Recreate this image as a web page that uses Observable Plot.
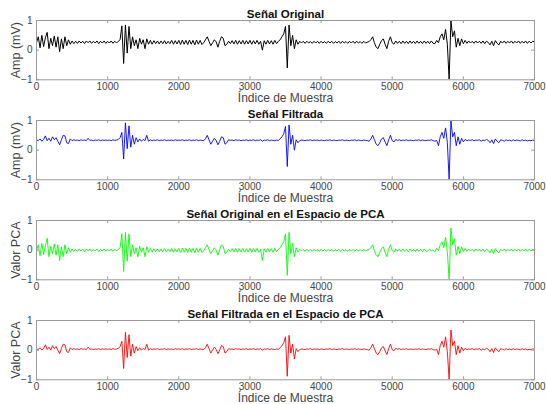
<!DOCTYPE html>
<html><head><meta charset="utf-8">
<script src="https://cdn.jsdelivr.net/npm/d3@7"></script>
<script src="https://cdn.jsdelivr.net/npm/@observablehq/plot@0.6"></script>
<style>
body{margin:0;background:#fff;}
#chart{position:relative;width:546px;height:404px;}
#chart svg{position:absolute;left:0;}
</style></head><body><div id="chart"></div>
<script>
// sample spacing of the read-off values (Índice de Muestra)
const step = 25;
const xTicks = [0,1000,2000,3000,4000,5000,6000,7000];
const yTicks = [-1,0,1];
const titles = ["Señal Original","Señal Filtrada","Señal Original en el Espacio de PCA","Señal Filtrada en el Espacio de PCA"];
const yLabels = ["Amp (mV)","Amp (mV)","Valor PCA","Valor PCA"];
const xLabel = "Índice de Muestra";
const colors = ["#000000","#0000ff","#00ff00","#ff0000"];

const senalOriginal = [
0.25,0.45,0.08,0.50,0.12,0.42,0.60,0.05,0.40,0.15,0.48,0.10,0.45,-0.05,0.38,0.05,0.45,0.15,0.35,0.20,
0.31,0.22,0.30,0.23,0.31,0.24,0.30,0.22,0.31,0.25,0.31,0.23,0.30,0.24,0.31,0.22,0.30,0.24,0.31,0.23,
0.30,0.24,0.31,0.23,0.30,0.24,0.30,0.35,0.82,-0.45,0.85,-0.10,0.80,0.05,0.45,0.15,0.35,0.05,0.40,0.20,
0.35,0.05,0.38,0.20,0.33,0.20,0.32,0.22,0.31,0.21,0.31,0.22,0.32,0.21,0.30,0.22,0.33,0.20,0.32,0.21,
0.33,0.19,0.34,0.20,0.33,0.19,0.34,0.20,0.33,0.18,0.34,0.20,0.33,0.19,0.25,0.35,0.45,0.30,0.15,0.25,
0.35,0.28,0.10,0.30,0.45,0.40,0.15,0.20,0.30,0.22,0.32,0.21,0.33,0.20,0.32,0.21,0.33,0.20,0.32,0.21,
0.33,0.20,0.32,0.21,0.33,0.20,0.30,0.00,0.32,0.20,0.33,0.21,0.32,0.20,0.33,0.22,0.30,0.35,0.45,0.55,
0.80,-0.60,0.85,0.15,0.50,0.05,0.35,0.20,0.30,0.24,0.30,0.23,0.30,0.24,0.29,0.23,0.30,0.24,0.30,0.23,
0.30,0.24,0.29,0.23,0.30,0.24,0.30,0.23,0.29,0.24,0.30,0.23,0.30,0.24,0.29,0.23,0.30,0.24,0.30,0.23,
0.30,0.24,0.29,0.23,0.30,0.24,0.27,0.29,0.35,0.45,0.25,0.10,0.05,0.20,0.32,0.38,0.20,0.05,0.30,0.45,
0.25,0.20,0.31,0.23,0.30,0.22,0.31,0.23,0.30,0.22,0.31,0.23,0.30,0.22,0.31,0.23,0.30,0.22,0.31,0.23,
0.30,0.22,0.31,0.23,0.22,0.33,0.25,0.45,0.55,0.35,0.70,0.20,-1.00,1.00,0.45,0.65,0.10,0.40,0.15,0.38,
0.22,0.33,0.23,0.31,0.24,0.30,0.23,0.31,0.24,0.30,0.23,0.31,0.22,0.30,0.26,0.18,0.30,0.15,0.32,0.23,
0.18,0.30,0.24,0.31,0.23,0.30,0.24,0.31,0.23,0.30,0.24,0.31,0.23,0.30,0.24,0.31,0.23,0.30,0.24,0.30,
0.28];

const senalFiltrada = [
0.35,0.32,0.38,0.30,0.36,0.48,0.32,0.40,0.30,0.45,0.35,0.42,0.30,0.18,0.35,0.50,0.48,0.25,0.22,0.38,
0.32,0.35,0.33,0.34,0.32,0.35,0.33,0.34,0.32,0.40,0.33,0.34,0.32,0.34,0.33,0.35,0.32,0.34,0.33,0.34,
0.33,0.34,0.32,0.35,0.33,0.34,0.36,0.42,0.60,-0.30,0.92,0.05,0.82,0.10,0.50,0.20,0.42,0.28,0.38,0.30,
0.36,0.32,0.50,0.30,0.35,0.32,0.34,0.33,0.35,0.32,0.34,0.33,0.35,0.32,0.34,0.33,0.34,0.32,0.35,0.33,
0.34,0.33,0.35,0.32,0.34,0.33,0.35,0.32,0.34,0.33,0.35,0.32,0.34,0.33,0.32,0.38,0.50,0.35,0.20,0.30,
0.40,0.33,0.18,0.30,0.45,0.42,0.20,0.25,0.35,0.33,0.34,0.32,0.35,0.33,0.34,0.32,0.34,0.33,0.35,0.32,
0.34,0.33,0.35,0.32,0.34,0.33,0.35,0.30,0.34,0.33,0.35,0.32,0.34,0.33,0.32,0.34,0.33,0.38,0.45,0.55,
0.80,-0.55,0.85,0.20,0.50,0.00,0.35,0.25,0.32,0.34,0.33,0.32,0.34,0.33,0.35,0.32,0.34,0.33,0.34,0.32,
0.34,0.33,0.32,0.34,0.33,0.35,0.32,0.34,0.33,0.32,0.34,0.33,0.35,0.32,0.34,0.33,0.32,0.34,0.33,0.35,
0.32,0.34,0.33,0.32,0.34,0.33,0.32,0.30,0.38,0.50,0.35,0.20,0.15,0.25,0.38,0.42,0.28,0.15,0.35,0.50,
0.32,0.28,0.36,0.33,0.35,0.32,0.34,0.33,0.35,0.32,0.34,0.33,0.32,0.34,0.33,0.35,0.32,0.34,0.33,0.32,
0.34,0.33,0.35,0.32,0.30,0.33,0.15,0.45,0.60,0.40,0.75,0.25,-1.00,1.00,0.45,0.60,0.15,0.45,0.20,0.40,
0.28,0.36,0.32,0.34,0.33,0.35,0.32,0.34,0.33,0.35,0.30,0.34,0.32,0.36,0.33,0.25,0.35,0.22,0.38,0.30,
0.25,0.35,0.33,0.30,0.35,0.32,0.34,0.31,0.35,0.32,0.34,0.33,0.31,0.35,0.32,0.34,0.31,0.33,0.32,0.34,
0.33];

const pcaOriginal = [
-0.02,0.18,-0.19,0.23,-0.15,0.15,0.40,-0.22,0.13,-0.12,0.21,-0.17,0.18,-0.35,0.11,-0.22,0.18,-0.12,0.08,-0.07,
0.04,-0.05,0.03,-0.04,0.04,-0.03,0.03,-0.05,0.04,-0.02,0.04,-0.04,0.03,-0.03,0.04,-0.05,0.03,-0.03,0.04,-0.04,
0.03,-0.03,0.04,-0.04,0.03,-0.03,0.03,0.08,0.55,-0.72,0.60,-0.37,0.55,-0.22,0.18,-0.12,0.08,-0.22,0.13,-0.07,
0.08,-0.22,0.11,-0.07,0.06,-0.07,0.05,-0.05,0.04,-0.06,0.04,-0.05,0.05,-0.06,0.03,-0.05,0.06,-0.07,0.05,-0.06,
0.06,-0.08,0.07,-0.07,0.06,-0.08,0.07,-0.07,0.06,-0.09,0.07,-0.07,0.06,-0.08,-0.02,0.08,0.18,0.03,-0.12,-0.02,
0.08,0.01,-0.17,0.03,0.18,0.13,-0.12,-0.07,0.03,-0.05,0.05,-0.06,0.06,-0.07,0.05,-0.06,0.06,-0.07,0.05,-0.06,
0.06,-0.07,0.05,-0.06,0.06,-0.07,0.03,-0.35,0.05,-0.07,0.06,-0.06,0.05,-0.07,0.06,-0.05,0.03,0.08,0.18,0.28,
0.55,-0.85,0.60,-0.12,0.23,-0.22,0.08,-0.07,0.03,-0.03,0.03,-0.04,0.03,-0.03,0.02,-0.04,0.03,-0.03,0.03,-0.04,
0.03,-0.03,0.02,-0.04,0.03,-0.03,0.03,-0.04,0.02,-0.03,0.03,-0.04,0.03,-0.03,0.02,-0.04,0.03,-0.03,0.03,-0.04,
0.03,-0.03,0.02,-0.04,0.03,-0.03,0.00,0.02,0.08,0.18,-0.02,-0.17,-0.22,-0.07,0.05,0.11,-0.07,-0.22,0.03,0.18,
-0.02,-0.07,0.04,-0.04,0.03,-0.05,0.04,-0.04,0.03,-0.05,0.04,-0.04,0.03,-0.05,0.04,-0.04,0.03,-0.05,0.04,-0.04,
-0.03,0.03,-0.02,0.01,-0.05,0.06,-0.02,0.18,0.28,0.08,0.43,-0.07,-1.00,0.75,0.18,0.38,-0.17,0.13,-0.12,0.11,
-0.05,0.06,-0.04,0.04,-0.03,0.03,-0.04,0.04,-0.03,0.03,-0.04,0.04,-0.05,0.03,-0.01,-0.09,0.03,-0.12,0.05,-0.04,
-0.09,0.03,-0.03,0.04,-0.04,0.03,-0.03,0.04,-0.04,0.03,-0.03,0.04,-0.04,0.03,-0.03,0.04,-0.04,0.03,-0.03,0.03,
0.01];

const pcaFiltrada = [
0.05,0.02,0.08,0.00,0.06,0.18,0.02,0.10,0.00,0.15,0.05,0.12,0.00,-0.12,0.05,0.20,0.18,-0.05,-0.08,0.08,
0.02,0.05,0.03,0.04,0.02,0.05,0.03,0.04,0.02,0.10,0.03,0.04,0.02,0.04,0.03,0.05,0.02,0.04,0.03,0.04,
0.03,0.04,0.02,0.05,0.03,0.04,0.06,0.12,0.30,-0.62,0.60,-0.25,0.52,-0.20,0.20,-0.10,0.12,-0.02,0.08,0.00,
0.06,0.02,0.20,0.00,0.05,0.02,0.04,0.03,0.05,0.02,0.04,0.03,0.05,0.02,0.04,0.03,0.04,0.02,0.05,0.03,
0.04,0.03,0.05,0.02,0.04,0.03,0.05,0.02,0.04,0.03,0.05,0.02,0.04,0.03,0.02,0.08,0.20,0.05,-0.10,0.00,
0.10,0.03,-0.12,0.00,0.15,0.12,-0.10,-0.05,0.05,0.03,0.04,0.02,0.05,0.03,0.04,0.02,0.04,0.03,0.05,0.02,
0.04,0.03,0.05,0.02,0.04,0.03,0.05,0.00,0.04,0.03,0.05,0.02,0.04,0.03,0.02,0.04,0.03,0.08,0.15,0.25,
0.45,-0.88,0.50,-0.10,0.20,-0.30,0.05,-0.05,0.02,0.04,0.03,0.02,0.04,0.03,0.05,0.02,0.04,0.03,0.04,0.02,
0.04,0.03,0.02,0.04,0.03,0.05,0.02,0.04,0.03,0.02,0.04,0.03,0.05,0.02,0.04,0.03,0.02,0.04,0.03,0.05,
0.02,0.04,0.03,0.02,0.04,0.03,0.02,0.00,0.08,0.20,0.05,-0.10,-0.15,-0.05,0.08,0.12,-0.02,-0.15,0.05,0.20,
0.02,-0.02,0.06,0.03,0.05,0.02,0.04,0.03,0.05,0.02,0.04,0.03,0.02,0.04,0.03,0.05,0.02,0.04,0.03,0.02,
0.04,0.03,0.05,0.02,0.00,0.03,-0.15,0.15,0.30,0.10,0.45,-0.05,-1.00,0.68,0.15,0.30,-0.15,0.15,-0.10,0.10,
-0.02,0.06,0.02,0.04,0.03,0.05,0.02,0.04,0.03,0.05,0.00,0.04,0.02,0.06,0.03,-0.05,0.05,-0.08,0.08,0.00,
-0.05,0.05,0.03,0.00,0.05,0.02,0.04,0.01,0.05,0.02,0.04,0.03,0.01,0.05,0.02,0.04,0.01,0.03,0.02,0.04,
0.03];

const series = [senalOriginal, senalFiltrada, pcaOriginal, pcaFiltrada];
const widths = [1.0, 0.9, 0.9, 0.9];

const W = 546, H = 100, mT = 20, mB = 20.7, mL = 36, mR = 12;
const plotH = H - mT - mB, plotW = W - mL - mR;
const font = "'Liberation Sans', Arial, Helvetica, sans-serif";
const chart = document.getElementById("chart");

series.forEach((vals, k) => {
  const extra = k === series.length - 1 ? 4 : 0;
  const svg = Plot.plot({
    width: W, height: H + extra,
    marginTop: mT, marginBottom: mB + extra, marginLeft: mL, marginRight: mR,
    style: {background: "transparent", overflow: "visible", fontFamily: font, fontSize: "10px", color: "#444"},
    x: {domain: [0, 7000], ticks: xTicks, tickSize: 0, tickPadding: 3, tickFormat: d3.format("d"), label: null},
    y: {domain: [-1, 1], ticks: yTicks, tickSize: 0, tickPadding: 4, tickFormat: d3.format("d"), label: null},
    marks: [
      Plot.line(vals, {x: (d, i) => i * step, y: d => d, stroke: colors[k], strokeWidth: widths[k], clip: true}),
      Plot.frame({stroke: "#9a9a9a", strokeWidth: 1}),
      Plot.tickX(xTicks, {x: d => d, insetTop: plotH - 3, stroke: "#9a9a9a"}),
      Plot.tickX(xTicks, {x: d => d, insetBottom: plotH - 3, stroke: "#9a9a9a"}),
      Plot.tickY(yTicks, {y: d => d, insetRight: plotW - 3, stroke: "#9a9a9a"}),
      Plot.tickY(yTicks, {y: d => d, insetLeft: plotW - 3, stroke: "#9a9a9a"}),
      Plot.text([titles[k]], {frameAnchor: "top", lineAnchor: "middle", textAnchor: "middle", dy: -6.5, text: d => d, fontWeight: "bold", fontSize: 11.5, fill: "#111"}),
      Plot.text([xLabel], {frameAnchor: "bottom", lineAnchor: "middle", textAnchor: "middle", dy: 18.5, text: d => d, fontSize: 12, fill: "#444"}),
      Plot.text([yLabels[k]], {frameAnchor: "left", lineAnchor: "middle", textAnchor: "middle", dx: -21, rotate: -90, text: d => d, fontSize: 12.5, fill: "#444"})
    ]
  });
  svg.style.top = (k * 100) + "px";
  chart.appendChild(svg);
});
</script></body></html>
